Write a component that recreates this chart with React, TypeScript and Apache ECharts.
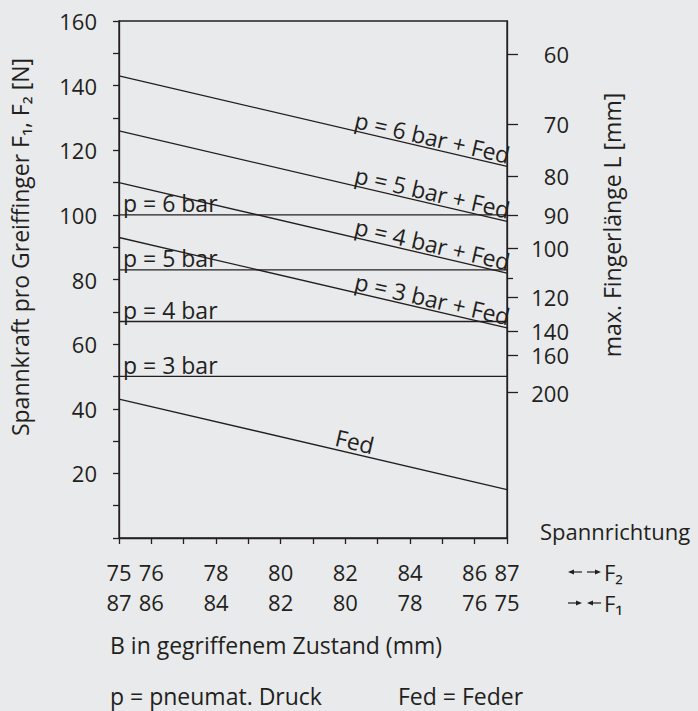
import { useEffect, useRef } from "react";
import * as echarts from "echarts";

// B range (x axis, F2 direction)
const xEnds = [75, 87];
// Spring force only (Fed) at x = 75 and x = 87
const fedForce = [43, 15];
// pneumatic pressure only
const pressureLabels = ["p = 3 bar", "p = 4 bar", "p = 5 bar", "p = 6 bar"];
const pressureForce = [50, 67, 83, 100];
// pressure + spring
const combinedLabels = ["p = 3 bar + Fed", "p = 4 bar + Fed", "p = 5 bar + Fed", "p = 6 bar + Fed"];
const combinedStart = [93, 110, 126, 143];
const combinedEnd = [65, 82, 98, 115];
// x tick labels
const xLabelTop = [75, 76, 78, 80, 82, 84, 86, 87];
const xLabelBottom = [87, 86, 84, 82, 80, 78, 76, 75];
// right axis: max finger length L and the force level it sits at
const fingerLength = [60, 70, 80, 90, 100, 120, 140, 160, 200];
const fingerForce = [149.7, 128.1, 112.1, 100, 89.6, 74.6, 64.1, 56.6, 45];
const fingerMinorForce = [80.4];

const INK = "#231f20";
const FONT = "'Open Sans', 'DejaVu Sans', sans-serif";
const FS = 22;
const FS_T = 23;

function lineSeries(name: string, y0: number, y1: number, label: string, pos: string, dist: any, padding: any = 0) {
  return {
    type: "line",
    name,
    data: [
      [xEnds[0], y0],
      [xEnds[1], y1],
    ],
    symbol: "none",
    silent: true,
    lineStyle: { color: INK, width: 1.3 },
    markLine: {
      silent: true,
      symbol: "none",
      lineStyle: { width: 0, color: "transparent" },
      label: {
        show: true,
        position: pos,
        formatter: label,
        color: INK,
        fontFamily: FONT,
        fontSize: FS_T,
        distance: dist,
        padding,
      },
      data: [
        [
          { coord: [xEnds[0], y0] },
          { coord: [xEnds[1], y1] },
        ],
      ],
    },
  };
}

function arrow(tipX: number, y: number, dir: number) {
  // dir = -1 points left, +1 points right
  const tail = tipX - dir * 14;
  return [
    { type: "line", shape: { x1: tail, y1: y, x2: tipX - dir * 4, y2: y }, style: { stroke: INK, lineWidth: 1.2 } },
    {
      type: "polygon",
      shape: { points: [[tipX, y], [tipX - dir * 6, y - 2.6], [tipX - dir * 6, y + 2.6]] },
      style: { fill: INK },
    },
  ];
}

export default function App() {
  const ref = useRef<HTMLDivElement>(null);
  useEffect(() => {
    const chart = echarts.init(ref.current!, null, { renderer: "svg" });
    const series: any[] = [];
    series.push(lineSeries("Fed", fedForce[0], fedForce[1], "Fed", "insideMiddleTop", 1, [0, 0, 0, 80]));
    pressureForce.forEach((v, i) =>
      series.push(lineSeries(pressureLabels[i], v, v, pressureLabels[i], "insideStartTop", 0, [0, 0, 0, 4]))
    );
    combinedStart.forEach((v, i) =>
      series.push(lineSeries(combinedLabels[i], v, combinedEnd[i], combinedLabels[i], "insideEndTop", 0))
    );

    const textStyle = (text: string, extra: any = {}) => ({
      text,
      fill: INK,
      fontFamily: FONT,
      fontSize: FS_T,
      lineHeight: 24,
      ...extra,
    });

    const axisText = { color: INK, fontFamily: FONT, fontSize: FS, lineHeight: 18 };

    chart.setOption({
      animation: false,
      backgroundColor: "#e9eaec",
      grid: {
        left: 119,
        right: 191,
        top: 21,
        bottom: 173,
        show: true,
        borderColor: INK,
        borderWidth: 1.3,
        backgroundColor: "transparent",
      },
      xAxis: [
        {
          type: "value",
          min: 75,
          max: 87,
          interval: 1,
          position: "bottom",
          axisLine: { show: true, lineStyle: { color: INK, width: 1.3 } },
          axisTick: { show: true, length: 6, lineStyle: { color: INK, width: 1.3 } },
          splitLine: { show: false },
          axisLabel: {
            ...axisText,
            margin: 25,
            formatter: (v: number) => (xLabelTop.includes(v) ? String(v) : ""),
          },
        },
        {
          type: "value",
          min: 75,
          max: 87,
          interval: 1,
          position: "bottom",
          offset: 30,
          axisLine: { show: false },
          axisTick: { show: false },
          splitLine: { show: false },
          axisLabel: {
            ...axisText,
            margin: 25,
            formatter: (v: number) => {
              const i = xLabelTop.indexOf(v);
              return i >= 0 ? String(xLabelBottom[i]) : "";
            },
          },
        },
      ],
      yAxis: [
        {
          type: "value",
          min: 0,
          max: 160,
          interval: 20,
          position: "left",
          axisLine: { show: true, lineStyle: { color: INK, width: 1.3 } },
          axisTick: { show: true, length: 6, lineStyle: { color: INK, width: 1.3 } },
          minorTick: { show: true, splitNumber: 2, length: 6, lineStyle: { color: INK, width: 1.3 } },
          splitLine: { show: false },
          axisLabel: {
            ...axisText,
            margin: 22,
            formatter: (v: number) => (v === 0 ? "" : String(v)),
          },
        },
        {
          type: "value",
          min: 0,
          max: 160,
          position: "right",
          axisLine: { show: true, lineStyle: { color: INK, width: 1.3 } },
          axisTick: { show: true, length: 11, customValues: fingerForce, lineStyle: { color: INK, width: 1.3 } },
          splitLine: { show: false },
          axisLabel: {
            ...axisText,
            customValues: fingerForce,
            align: "right",
            margin: 62,
            formatter: (v: number) => {
              const i = fingerForce.indexOf(v);
              return i >= 0 ? String(fingerLength[i]) : "";
            },
          },
        },
        {
          type: "value",
          min: 0,
          max: 160,
          position: "right",
          axisLine: { show: false },
          axisTick: { show: true, length: 6, customValues: fingerMinorForce, lineStyle: { color: INK, width: 1.3 } },
          splitLine: { show: false },
          axisLabel: { show: false },
        },
      ],
      series,
      graphic: [
        {
          type: "text",
          x: 20,
          y: 247,
          rotation: Math.PI / 2,
          style: textStyle("Spannkraft pro Greiffinger F\u2081, F\u2082 [N]", { align: "center", verticalAlign: "middle" }),
        },
        {
          type: "text",
          x: 612,
          y: 225,
          rotation: Math.PI / 2,
          style: textStyle("max. Fingerlänge L [mm]", { align: "center", verticalAlign: "middle" }),
        },
        { type: "text", x: 540, y: 531, style: textStyle("Spannrichtung", { fontSize: FS, align: "left", verticalAlign: "middle" }) },
        { type: "text", x: 604, y: 572, style: textStyle("F\u2082", { fontSize: FS, align: "left", verticalAlign: "middle" }) },
        { type: "text", x: 604, y: 603, style: textStyle("F\u2081", { fontSize: FS, align: "left", verticalAlign: "middle" }) },
        ...arrow(568, 572, -1),
        ...arrow(601, 572, 1),
        ...arrow(582, 603, 1),
        ...arrow(587, 603, -1),
        {
          type: "text",
          x: 110,
          y: 645,
          style: textStyle("B in gegriffenem Zustand (mm)", { align: "left", verticalAlign: "middle" }),
        },
        { type: "text", x: 110, y: 696, style: textStyle("p = pneumat. Druck", { align: "left", verticalAlign: "middle" }) },
        { type: "text", x: 398, y: 696, style: textStyle("Fed = Feder", { align: "left", verticalAlign: "middle" }) },
      ],
    });
    return () => chart.dispose();
  }, []);
  return (
    <div
      ref={ref}
      style={{ position: "fixed", left: 0, top: 0, width: 698, height: 711 }}
    />
  );
}
